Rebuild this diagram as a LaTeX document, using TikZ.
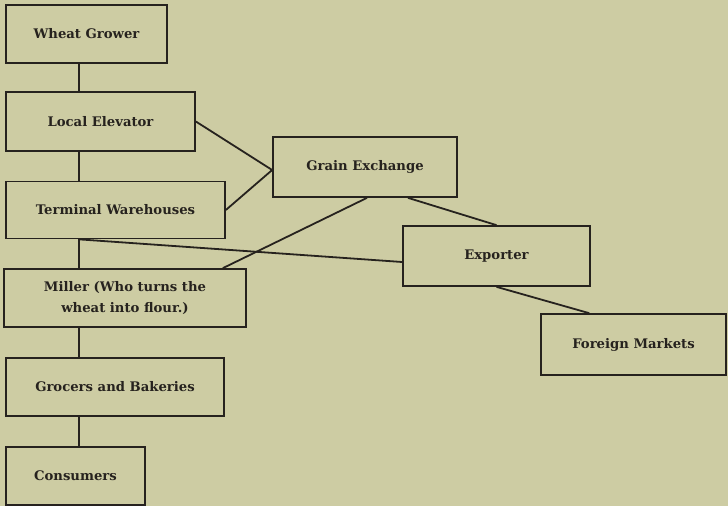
\documentclass[tikz,border=0pt]{standalone}
\usepackage{fontspec}
\setmainfont{DejaVu Serif}
\usetikzlibrary{calc}

\definecolor{paper}{RGB}{205,204,163}
\definecolor{ink}{RGB}{38,34,30}

\tikzset{
  stage/.style={draw=ink, line width=1.7pt, inner sep=0pt, align=center,
                font=\bfseries\fontsize{13.2}{21}\selectfont, text=ink},
  link/.style={draw=ink, line width=1.8pt}
}

\begin{document}
\begin{tikzpicture}[x=1pt, y=-1pt]
\useasboundingbox [fill=paper] (0,0) rectangle (728,506);

% left column
\node [stage, minimum width=161pt, minimum height=58pt] (grower) at (86.5,34) {Wheat Grower};
\node [stage, minimum width=189pt, minimum height=59pt] (elevator) at (100.5,121.5) {Local Elevator};
\node [stage, minimum width=219pt, minimum height=57pt] (terminal) at (115.5,210) {Terminal Warehouses};
\node [stage, minimum width=242pt, minimum height=58pt] (miller) at (125,298) {Miller (Who turns the\\wheat into flour.)};
\node [stage, minimum width=218pt, minimum height=58pt] (grocers) at (115,387) {Grocers and Bakeries};
\node [stage, minimum width=139pt, minimum height=58pt] (consumers) at (75.5,476) {Consumers};

% right side
\node [stage, minimum width=184pt, minimum height=60pt] (exchange) at (365,167) {Grain Exchange};
\node [stage, minimum width=187pt, minimum height=60pt] (exporter) at (496.5,256) {Exporter};
\node [stage, minimum width=185pt, minimum height=61pt] (foreign) at (633.5,344.5) {Foreign Markets};

\coordinate (spine) at (79,0);

% main chain
\draw [link] (spine |- grower.south) -- (spine |- elevator.north);
\draw [link] (spine |- elevator.south) -- (spine |- terminal.north);
\draw [link] (spine |- terminal.south) -- (spine |- miller.north);
\draw [link] (spine |- miller.south) -- (spine |- grocers.north);
\draw [link] (spine |- grocers.south) -- (spine |- consumers.north);

% exchange and export
\draw [link] (elevator.east) -- ($(exchange.west)+(0,3)$);
\draw [link] (terminal.east) -- ($(exchange.west)+(0,3)$);
\draw [link] ($(exchange.south)+(2,0)$) -- ($(miller.north east)+(-24,0)$);
\draw [link] ($(exchange.south)+(43,0)$) -- (exporter.north);
\draw [link] (spine |- terminal.south) -- ($(exporter.west)+(0,6)$);
\draw [link] (exporter.south) -- ($(foreign.north west)+(49,0)$);

\end{tikzpicture}
\end{document}
